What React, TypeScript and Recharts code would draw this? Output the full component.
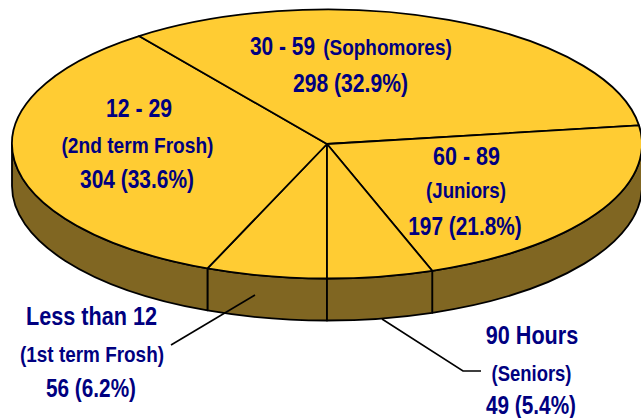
import React from "react";
import { PieChart, Pie } from "recharts";

const categories = ["Less than 12", "12 - 29", "30 - 59", "60 - 89", "90 Hours"];
const subtitles = ["(1st term Frosh)", "(2nd term Frosh)", "(Sophomores)", "(Juniors)", "(Seniors)"];
const counts = [56, 304, 298, 197, 49];
const shares = ["6.2%", "33.6%", "32.9%", "21.8%", "5.4%"];

const data = categories.map((name, i) => ({ name, value: counts[i] }));

const CX = 327;
const CY = 144;
const RX = 315;
const RY = 134.5;
const DEPTH = 42;
const K = RY / RX;
const TOP = "#FFCC33";
const SIDE = "#806622";
const NAVY = "#000080";
const FONT = "'Liberation Sans', Arial, sans-serif";

const pt = (cx: number, cy: number, r: number, a: number) => {
  const t = (a * Math.PI) / 180;
  return [cx + r * Math.cos(t), cy - K * r * Math.sin(t)];
};

const TopFace = (p: any) => {
  const { cx, cy, outerRadius: r, startAngle: s, endAngle: e } = p;
  const [x0, y0] = pt(cx, cy, r, s);
  const [x1, y1] = pt(cx, cy, r, e);
  const large = Math.abs(s - e) > 180 ? 1 : 0;
  return (
    <path
      d={`M${cx},${cy}L${x0},${y0}A${r},${r * K} 0 ${large} 1 ${x1},${y1}Z`}
      fill={TOP}
      stroke="#000"
      strokeWidth={1.8}
      strokeLinejoin="round"
    />
  );
};

const Wall = (p: any) => {
  const { cx, cy, outerRadius: r, startAngle: s, endAngle: e } = p;
  const windows = [
    [0, -180],
    [-360, -540],
  ];
  const parts: React.ReactNode[] = [];
  windows.forEach(([hi, lo], i) => {
    const a = Math.min(s, hi);
    const b = Math.max(e, lo);
    if (a <= b) return;
    const [x0, y0] = pt(cx, cy, r, a);
    const [x1, y1] = pt(cx, cy, r, b);
    parts.push(
      <path
        key={i}
        d={`M${x0},${y0}A${r},${r * K} 0 0 1 ${x1},${y1}L${x1},${y1 + DEPTH}A${r},${r * K} 0 0 0 ${x0},${y0 + DEPTH}Z`}
        fill={SIDE}
        stroke="#000"
        strokeWidth={1.8}
        strokeLinejoin="round"
      />
    );
  });
  return <g>{parts}</g>;
};

const BIG = 25;
const SMALL = 21.5;
// [centre x, baseline y, drawn width] for category, subtitle and count lines
const labelSpots: number[][][] = [
  [[91.5, 325, 131], [92, 361.5, 144], [91, 396.5, 90]],
  [[139, 117, 66], [137.5, 152.5, 152], [137, 188, 114]],
  [[282.5, 55, 65], [387.5, 55, 128.5], [350.5, 91.5, 115]],
  [[466.5, 165, 67], [466, 198, 80], [465, 235, 113.5]],
  [[532, 344, 92.5], [531.5, 380.5, 80], [531, 414, 90]],
];
const leaders = ["M255,295L171,345", "", "", "", "M382,319L463,371L481,371"];

const Label = (p: any) => {
  const i = p.index as number;
  const spot = labelSpots[i];
  const lines: [string, number][] = [
    [categories[i], BIG],
    [subtitles[i], SMALL],
    [`${counts[i]} (${shares[i]})`, BIG],
  ];
  return (
    <g>
      {leaders[i] ? <path d={leaders[i]} fill="none" stroke="#000" strokeWidth={1.6} /> : null}
      {lines.map(([t, size], j) => (
        <text
          key={j}
          x={spot[j][0]}
          y={spot[j][1]}
          textLength={spot[j][2]}
          lengthAdjust="spacingAndGlyphs"
          fontFamily={FONT}
          fontWeight={700}
          fontSize={size}
          fill={NAVY}
          textAnchor="middle"
        >
          {t}
        </text>
      ))}
    </g>
  );
};

export default function App() {
  return (
    <div style={{ position: "absolute", left: 0, top: 0, width: 641, height: 418, overflow: "hidden", background: "#fff" }}>
      <PieChart width={641} height={418} margin={{ top: 0, right: 0, bottom: 0, left: 0 }}>
        <Pie
          data={data}
          dataKey="value"
          cx={CX}
          cy={CY}
          innerRadius={0}
          outerRadius={RX}
          startAngle={-90}
          endAngle={-450}
          paddingAngle={0}
          isAnimationActive={false}
          shape={Wall}
          activeShape={Wall}
          inactiveShape={Wall}
          label={false}
          labelLine={false}
        />
        <Pie
          data={data}
          dataKey="value"
          cx={CX}
          cy={CY}
          innerRadius={0}
          outerRadius={RX}
          startAngle={-90}
          endAngle={-450}
          paddingAngle={0}
          isAnimationActive={false}
          shape={TopFace}
          activeShape={TopFace}
          inactiveShape={TopFace}
          label={Label}
          labelLine={false}
        />
      </PieChart>
    </div>
  );
}
